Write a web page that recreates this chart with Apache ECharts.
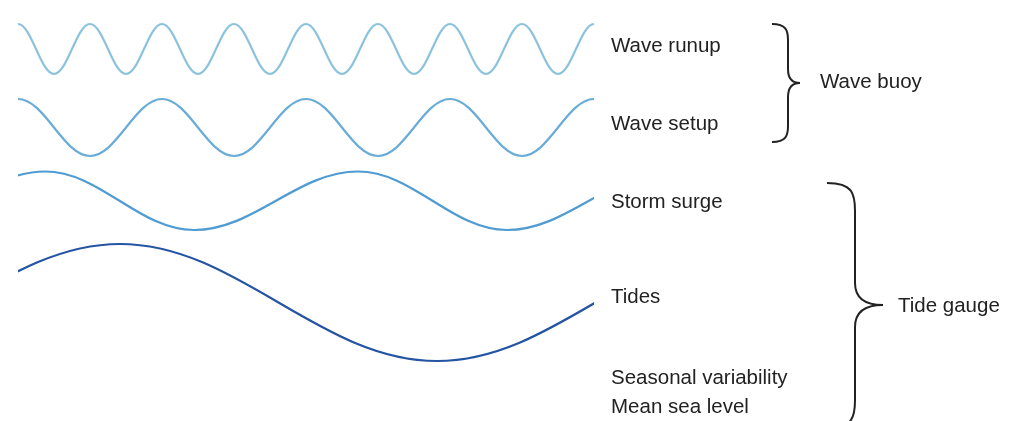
<!DOCTYPE html>
<html>
<head>
<meta charset="utf-8">
<script src="https://cdn.jsdelivr.net/npm/echarts@6/dist/echarts.min.js"></script>
<style>html,body{margin:0;padding:0;background:#fff;}#c{width:1016px;height:421px;}</style>
</head>
<body>
<div id="c"></div>
<script>
// Crest / trough positions, in a pixel-like frame (x right, y down).
// The first two and last two entries lie outside the visible window so the waves are cut at its edges.
// Wave runup
const runupX = [-54, -18, 18, 54, 90, 126, 162, 198, 234, 270, 306, 342, 378, 414, 450, 486, 522, 558, 594, 630, 666];
const runupY = [24, 74, 24, 74, 24, 74, 24, 74, 24, 74, 24, 74, 24, 74, 24, 74, 24, 74, 24, 74, 24];
// Wave setup
const setupX = [-126, -54, 18, 90, 162, 234, 306, 378, 450, 522, 594, 666, 738];
const setupY = [99, 156, 99, 156, 99, 156, 99, 156, 99, 156, 99, 156, 99];
// Storm surge
const surgeX = [-283, -119, 45, 194, 358, 507, 671, 820];
const surgeY = [171.5, 230, 171.5, 230, 171.5, 230, 171.5, 230];
// Tides
const tidesX = [-514, -197, 120, 437, 754, 1071];
const tidesY = [244, 361, 244, 361, 244, 361];

const xRange = [20, 592];   // visible clip window of the waves
const yRange = [0, 421];

const seriesNames = ['Wave runup', 'Wave setup', 'Storm surge', 'Tides'];
const seriesColors = ['#8cc3dc', '#68acd7', '#4f9bd2', '#2454a2'];
const labelTexts = ['Wave runup', 'Wave setup', 'Storm surge', 'Tides', 'Seasonal variability', 'Mean sea level'];
const groupTexts = ['Wave buoy', 'Tide gauge'];

function pairs(xs, ys) { return xs.map((x, i) => [x, ys[i]]); }

const chart = echarts.init(document.getElementById('c'), null, { renderer: 'canvas' });
const font = '20.5px "Liberation Sans", Arial, Helvetica, sans-serif';
const txt = (t, x, y) => ({
  type: 'text', x: x, y: y,
  style: { text: t, fill: '#222', font: font, verticalAlign: 'middle' }
});
const braceStyle = { fill: 'none', stroke: '#222', lineWidth: 2 };
const bez = (x1, y1, c1x, c1y, c2x, c2y, x2, y2) => ({
  type: 'bezierCurve',
  shape: { x1: x1, y1: y1, cpx1: c1x, cpy1: c1y, cpx2: c2x, cpy2: c2y, x2: x2, y2: y2 },
  style: braceStyle
});
const seg = (x1, y1, x2, y2) => ({ type: 'line', shape: { x1: x1, y1: y1, x2: x2, y2: y2 }, style: braceStyle });

// curly brace: left end x0, spine x1, tip x2, top yt, tip ym, bottom yb, curl sizes
function brace(x0, x1, x2, yt, ym, yb, r, r2) {
  return [
    bez(x0, yt, x1 - 2, yt, x1, yt + r * 0.4, x1, yt + r),
    seg(x1, yt + r, x1, ym - r2),
    bez(x1, ym - r2, x1, ym - r2 * 0.35, x1 + (x2 - x1) * 0.3, ym, x2, ym),
    bez(x2, ym, x1 + (x2 - x1) * 0.3, ym, x1, ym + r2 * 0.35, x1, ym + r2),
    seg(x1, ym + r2, x1, yb - r),
    bez(x1, yb - r, x1, yb - r * 0.4, x1 - 2, yb, x0, yb)
  ];
}

const lineSeries = (i, xs, ys) => ({
  name: seriesNames[i], type: 'line', data: pairs(xs, ys), smooth: 0.37, clip: true,
  showSymbol: false, lineStyle: { color: seriesColors[i], width: 2.2 }
});

const option = {
  animation: false,
  backgroundColor: '#fff',
  grid: { left: xRange[0], right: 1016 - xRange[1], top: 0, bottom: 0 },
  xAxis: { type: 'value', min: xRange[0], max: xRange[1], show: false },
  yAxis: { type: 'value', min: yRange[0], max: yRange[1], inverse: true, show: false },
  series: [
    lineSeries(0, runupX, runupY),
    lineSeries(1, setupX, setupY),
    lineSeries(2, surgeX, surgeY),
    lineSeries(3, tidesX, tidesY)
  ],
  graphic: [
    txt(labelTexts[0], 611, 46),
    txt(labelTexts[1], 611, 124),
    txt(labelTexts[2], 611, 202),
    txt(labelTexts[3], 611, 297),
    txt(labelTexts[4], 611, 378),
    txt(labelTexts[5], 611, 407),
    txt(groupTexts[0], 820, 82),
    txt(groupTexts[1], 898, 306)
  ].concat(brace(772, 788, 800, 24, 83, 142, 16, 14))
   .concat(brace(827, 855, 883, 183, 305, 428, 28, 22))
};
chart.setOption(option);
</script>
</body>
</html>
